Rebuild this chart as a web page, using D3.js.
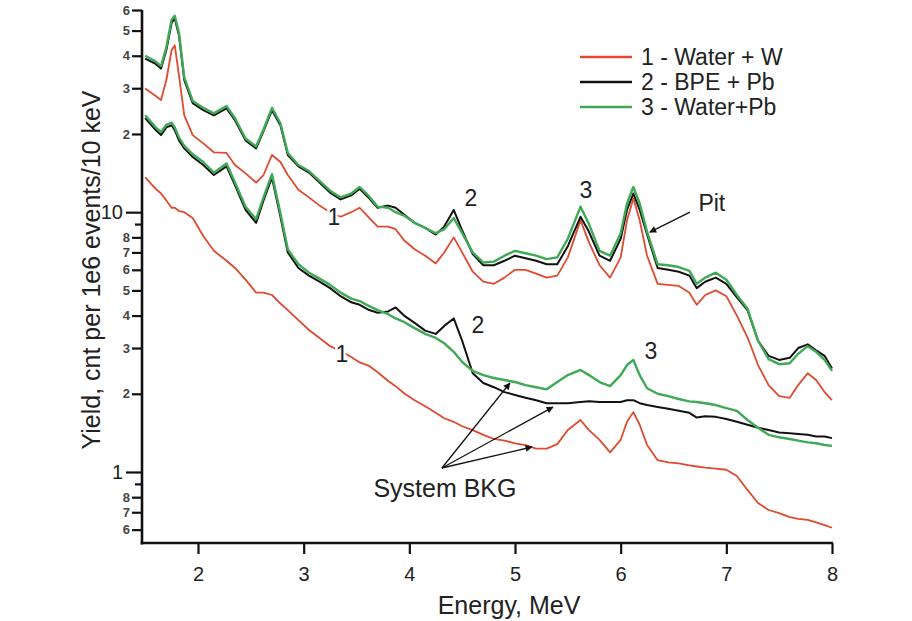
<!DOCTYPE html>
<html><head><meta charset="utf-8">
<script src="https://cdn.jsdelivr.net/npm/d3@7"></script>
<style>
body{margin:0;background:#fff;}
svg{display:block;font-family:"Liberation Sans",Arial,Helvetica,sans-serif;}
</style></head>
<body><svg id="c" width="912" height="621"></svg>
<script>
// ---- data (energy in MeV, yield in cnt per 1e6 events / 10 keV) ----
const energy = [1.5,1.6,1.65,1.7,1.75,1.78,1.82,1.87,1.95,2.05,2.15,2.27,2.35,2.45,2.55,2.62,2.7,2.78,2.85,2.95,
3.05,3.15,3.25,3.35,3.45,3.53,3.62,3.7,3.8,3.87,3.95,
4.05,4.15,4.25,4.33,4.42,4.5,4.6,4.7,4.8,4.9,
5.0,5.1,5.2,5.3,5.4,5.5,5.62,5.7,5.8,5.9,
6.0,6.06,6.12,6.18,6.25,6.35,6.45,6.55,6.65,6.72,6.8,6.9,
7.0,7.1,7.2,7.3,7.4,7.5,7.6,7.68,7.77,7.85,7.93,8.0];

// with target (upper curves)
const waterW = [29.9,28.0,27.0,32.2,42.0,43.9,33.6,23.6,19.8,18.4,17.0,16.9,15.2,14.1,13.0,13.9,16.6,15.6,13.9,12.2,
11.4,10.6,10.0,9.6,10.0,10.4,9.5,8.8,8.8,8.6,7.8,
7.2,6.8,6.35,7.0,8.0,7.0,5.9,5.4,5.3,5.6,
6.0,6.0,5.8,5.6,5.7,6.7,9.3,7.65,6.25,5.6,
6.7,9.3,11.3,9.3,6.8,5.3,5.25,5.2,4.9,4.4,4.8,5.0,
4.75,4.0,3.3,2.58,2.16,1.96,1.93,2.16,2.4,2.26,2.03,1.89];
const bpePb = [39,37.2,35.7,42,53.5,55.7,47.9,32.2,26.3,24.7,23.6,25.1,22.6,18.9,17.6,20.5,24.7,21.6,16.6,15.0,
14.2,13.0,11.9,11.2,11.6,12.3,11.3,10.4,10.6,10.4,9.8,
9.1,8.7,8.2,8.8,10.2,8.5,6.9,6.25,6.25,6.5,
6.8,6.65,6.5,6.3,6.3,7.4,9.6,8.4,6.8,6.5,
7.9,10.2,11.8,10.2,8.2,6.1,6.0,5.9,5.7,5.1,5.4,5.6,
5.3,4.7,4.2,3.2,2.8,2.7,2.75,3.0,3.1,2.94,2.8,2.5];
const waterPb = [40,38,36.5,43,55,57,49,33,26.8,25.2,24,25.6,23,19.2,17.9,20.8,25.2,22,16.9,15.2,
14.4,13.2,12.1,11.4,11.8,12.5,11.5,10.5,10.4,10.0,9.7,
9.1,8.7,8.3,8.6,9.5,8.3,7.0,6.4,6.45,6.8,
7.1,6.95,6.8,6.6,6.7,7.9,10.5,9.0,7.1,6.8,
8.3,10.8,12.5,10.8,8.4,6.3,6.25,6.15,5.95,5.3,5.6,5.85,
5.5,4.8,4.25,3.2,2.72,2.6,2.62,2.85,3.05,2.9,2.7,2.45];

// system background (lower curves)
const bkgWaterW = [13.6,12.3,11.8,11.1,10.4,10.4,10.1,10.0,9.5,8.1,7.1,6.5,6.1,5.5,4.9,4.9,4.8,4.45,4.2,3.84,
3.52,3.28,3.05,2.92,2.77,2.64,2.56,2.42,2.24,2.14,2.01,
1.89,1.79,1.69,1.61,1.56,1.50,1.45,1.39,1.34,1.32,
1.29,1.27,1.23,1.23,1.28,1.45,1.585,1.45,1.33,1.19,
1.33,1.56,1.70,1.52,1.27,1.11,1.09,1.08,1.06,1.05,1.04,1.03,
1.02,0.965,0.853,0.76,0.714,0.695,0.67,0.66,0.654,0.64,0.625,0.61];
const bkgBpePb = [23.0,20.7,19.8,21.2,21.6,20.7,18.9,17.6,16.3,15.2,13.9,15.0,12.7,10.2,9.1,11.1,13.6,9.6,7.0,6.1,
5.7,5.4,5.1,4.75,4.5,4.4,4.2,4.1,4.15,4.3,4.0,
3.75,3.5,3.4,3.65,3.9,3.2,2.4,2.2,2.12,2.03,
1.98,1.93,1.89,1.84,1.84,1.84,1.86,1.87,1.86,1.86,
1.86,1.89,1.89,1.84,1.81,1.78,1.75,1.72,1.69,1.62,1.64,1.63,
1.6,1.56,1.52,1.48,1.45,1.42,1.41,1.40,1.39,1.37,1.37,1.35];
const bkgWaterPb = [23.6,21.2,20.3,21.7,22.1,21.2,19.4,18.0,16.7,15.6,14.2,15.4,13.0,10.5,9.4,11.4,14.0,9.9,7.2,6.3,
5.85,5.55,5.25,4.9,4.65,4.55,4.35,4.2,4.05,3.9,3.78,
3.58,3.4,3.28,3.13,2.9,2.65,2.45,2.36,2.3,2.26,
2.22,2.16,2.12,2.08,2.22,2.36,2.47,2.36,2.22,2.14,
2.36,2.58,2.7,2.36,2.1,2.0,1.96,1.91,1.87,1.86,1.84,1.81,
1.76,1.72,1.585,1.48,1.39,1.36,1.34,1.32,1.30,1.29,1.27,1.26];

const legendLabels = ["1 - Water + W","2 - BPE + Pb","3 - Water+Pb"];
const xTicks = [2,3,4,5,6,7,8];
const yMajorTicks = [1,10];
const yMinorTicks = [0.6,0.7,0.8,2,3,4,5,6,7,8,20,30,40,50,60];
const yMinorLabels = ["6","7","8","2","3","4","5","6","7","8","2","3","4","5","6"];
const yBareTicks = [0.9,9];

// annotations in data units
const curveLabels = [
  {t:"1", e:3.287, v:9.57, halo:true},
  {t:"2", e:4.583, v:11.32},
  {t:"3", e:5.671, v:12.15},
  {t:"Pit", e:6.863, v:10.83},
  {t:"1", e:3.362, v:2.84, halo:true},
  {t:"2", e:4.649, v:3.68},
  {t:"3", e:6.286, v:2.94}
];
const pitArrow = {from:[6.655,10.0], to:[6.276,8.38]};
const bkgOrigin = [4.308,1.036];
const bkgTips = [[4.952,2.20],[5.359,1.778],[5.160,1.248]];
const bkgText = {t:"System BKG", e:4.337, v:0.868};

// ---- drawing ----
const RED="#df4a30", BLACK="#111111", GREEN="#3fa955";
const svg = d3.select("#c");
const x = d3.scaleLinear().domain([1.47, 8]).range([142, 832]);
const y = d3.scaleLog().domain([0.533, 60]).range([543, 10]);

const defs = svg.append("defs");
defs.append("marker").attr("id","ah").attr("viewBox","0 0 10 10").attr("refX",9).attr("refY",5)
  .attr("markerWidth",9).attr("markerHeight",7).attr("markerUnits","userSpaceOnUse").attr("orient","auto")
  .append("path").attr("d","M0,0 L10,5 L0,10 z").attr("fill","#111");

const line = vals => d3.line().x((d,i)=>x(energy[i])).y(d=>y(d))(vals);
const series = [
  {v:waterW, c:RED, w:1.8},
  {v:bkgWaterW, c:RED, w:1.8},
  {v:bpePb, c:BLACK, w:2},
  {v:bkgBpePb, c:BLACK, w:2},
  {v:waterPb, c:GREEN, w:2.4},
  {v:bkgWaterPb, c:GREEN, w:2.4}
];
svg.append("g").selectAll("path").data(series).join("path")
  .attr("d",d=>line(d.v)).attr("fill","none").attr("stroke",d=>d.c)
  .attr("stroke-width",d=>d.w).attr("stroke-linejoin","round");

// axes
const gx = svg.append("g").attr("transform","translate(0,543)")
  .call(d3.axisBottom(x).tickValues(xTicks).tickSize(11).tickPadding(13).tickFormat(d3.format("d")));
gx.selectAll("text").attr("font-size",20).attr("fill","#222").attr("font-family","Liberation Sans, Arial, sans-serif");

const gyBare = svg.append("g").attr("transform","translate(142,0)")
  .call(d3.axisLeft(y).tickValues(yBareTicks).tickSize(7).tickFormat(""));
const gyMinor = svg.append("g").attr("transform","translate(142,0)")
  .call(d3.axisLeft(y).tickValues(yMinorTicks).tickSize(10).tickPadding(2).tickFormat((d,i)=>yMinorLabels[i]));
gyMinor.selectAll("text").attr("font-size",13).attr("font-weight","bold").attr("fill","#444").attr("font-family","Liberation Sans, Arial, sans-serif");
const gyMajor = svg.append("g").attr("transform","translate(142,0)")
  .call(d3.axisLeft(y).tickValues(yMajorTicks).tickSize(16).tickPadding(3).tickFormat(d3.format("d")));
gyMajor.selectAll("text").attr("font-size",20).attr("fill","#222").attr("font-family","Liberation Sans, Arial, sans-serif");

[gx,gyBare,gyMinor,gyMajor].forEach(g=>{
  g.selectAll(".domain").remove();
  g.selectAll(".tick line").attr("stroke","#111").attr("stroke-width",2.2);
});
svg.append("line").attr("x1",142).attr("x2",142).attr("y1",y(60)).attr("y2",544.5).attr("stroke","#111").attr("stroke-width",2.6);
svg.append("line").attr("x1",140.7).attr("x2",x(8)+1).attr("y1",543).attr("y2",543).attr("stroke","#111").attr("stroke-width",2.6);

// titles
svg.append("text").attr("x",x(5)-6).attr("y",614).attr("text-anchor","middle")
  .attr("font-size",25).attr("fill","#222").text("Energy, MeV");
svg.append("text").attr("transform","translate(100,270) rotate(-90)").attr("text-anchor","middle")
  .attr("font-size",25).attr("fill","#222").text("Yield, cnt per 1e6 events/10 keV");

// legend
const leg = svg.append("g").attr("transform","translate(580,57)");
const legColors = [RED,BLACK,GREEN];
legendLabels.forEach((t,i)=>{
  leg.append("line").attr("x1",0).attr("x2",52).attr("y1",i*25).attr("y2",i*25)
    .attr("stroke",legColors[i]).attr("stroke-width",2.5);
  leg.append("text").attr("x",61).attr("y",i*25+8).attr("font-size",23).attr("fill","#222").text(t);
});

// annotations
const ann = svg.append("g");
curveLabels.forEach(l=>{
  const tx = ann.append("text").attr("x",x(l.e)).attr("y",y(l.v)).attr("dy","0.36em")
    .attr("text-anchor","middle").attr("font-size",23).attr("fill","#222").text(l.t);
  if(l.halo) tx.attr("stroke","#fff").attr("stroke-width",5).attr("paint-order","stroke");
});
ann.append("line").attr("x1",x(pitArrow.from[0])).attr("y1",y(pitArrow.from[1]))
  .attr("x2",x(pitArrow.to[0])).attr("y2",y(pitArrow.to[1]))
  .attr("stroke","#111").attr("stroke-width",1.3).attr("marker-end","url(#ah)");
bkgTips.forEach(tp=>{
  ann.append("line").attr("x1",x(bkgOrigin[0])).attr("y1",y(bkgOrigin[1]))
    .attr("x2",x(tp[0])).attr("y2",y(tp[1]))
    .attr("stroke","#111").attr("stroke-width",1.3).attr("marker-end","url(#ah)");
});
ann.append("text").attr("x",x(bkgText.e)).attr("y",y(bkgText.v)).attr("dy","0.36em")
  .attr("text-anchor","middle").attr("font-size",25).attr("fill","#222").text(bkgText.t);
</script></body></html>
